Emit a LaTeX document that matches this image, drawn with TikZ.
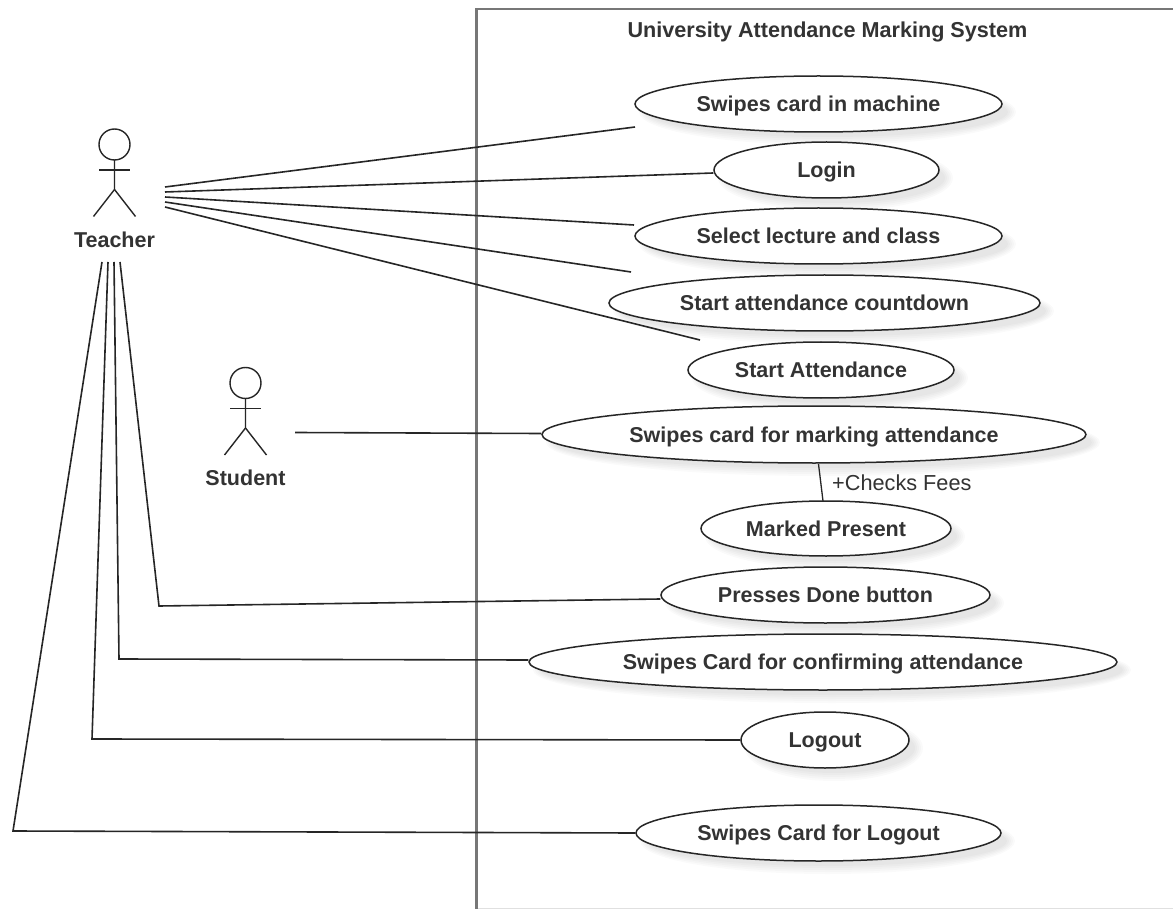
\documentclass[tikz,border=0pt]{standalone}
\usepackage{fontspec}
\setmainfont{Liberation Sans}
\usetikzlibrary{shapes.geometric}
\definecolor{ink}{HTML}{333333}
\definecolor{wire}{HTML}{262626}
\definecolor{framegrey}{HTML}{777777}
\definecolor{edgegrey}{HTML}{E0E0E0}
\tikzset{
  x=1pt,y=-1pt,
  usecase/.style={ellipse,draw=wire,line width=1.5pt,fill=white,inner sep=0pt,text=ink,text height=17pt,text depth=2pt,font=\fontsize{21.5}{24}\selectfont\bfseries},
  actorname/.style={inner sep=0pt,text=ink,text height=17pt,text depth=2pt,font=\fontsize{21.5}{24}\selectfont\bfseries},
  actorline/.style={draw=wire,line width=1.4pt},
  link/.style={draw=wire,line width=1.6pt},
  frameline/.style={draw=framegrey,line width=2.6pt},
  plain/.style={inner sep=0pt,text=ink},
}
% name, cx, cy, rx, ry, text
\newcommand{\ucase}[6]{%
  \foreach \g in {0,2,4,6,8}{%
    \fill[black,opacity=0.02] (#2+9,#3+8) ellipse [x radius=#4+5-\g, y radius=#5+5-\g];}%
  \node[usecase,minimum width=2*#4 pt,minimum height=2*#5 pt] (#1) at (#2,#3) {#6};}
% name, cx, cy(head)
\newcommand{\stick}[3]{%
  \coordinate (#1head) at (#2,#3);
  \draw[actorline] (#1head) circle [radius=15.5];
  \draw[actorline] (#2,#3+15.5) -- (#2,#3+45) -- (#2-21,#3+72);
  \draw[actorline] (#2,#3+45) -- (#2+21,#3+72);
  \draw[actorline] (#2-15.5,#3+25.5) -- (#2+15.5,#3+25.5);}
\begin{document}
\begin{tikzpicture}
\useasboundingbox (0,0) rectangle (1173,909);
\fill[white] (0,0) rectangle (1173,909);
% frame
\coordinate (frameA) at (1173,9);
\coordinate (frameB) at (476.5,9);
\coordinate (frameC) at (476.5,909);
\coordinate (frameD) at (1173,908.5);
\coordinate (frameE) at (476.5,908.5);
\draw[edgegrey,line width=1pt] (frameE) -- (frameD);
\draw[frameline] (frameA) -- (frameB) -- (frameC);
\node[plain,text height=17pt,text depth=2pt,font=\fontsize{21.6}{24}\selectfont\bfseries] (title) at (827.5,30) {University Attendance Marking System};
% use cases
\ucase{machine}{818.5}{104}{183.5}{28}{Swipes card in machine}
\ucase{login}{826.5}{170}{112.5}{28}{Login}
\ucase{select}{818.5}{236}{183.5}{28}{Select lecture and class}
\ucase{countdown}{824.5}{303}{215.5}{28}{Start attendance countdown}
\ucase{start}{821}{370}{133}{28}{Start Attendance}
\ucase{marking}{814}{434.5}{272}{28.5}{Swipes card for marking attendance}
\ucase{present}{826}{528.5}{125}{27.5}{Marked Present}
\ucase{done}{825.5}{595}{164.5}{28}{Presses Done button}
\ucase{confirm}{823}{662}{294}{28}{Swipes Card for confirming attendance}
\ucase{logout}{825}{740}{84}{28}{Logout}
\ucase{swipeout}{818.5}{833}{182.5}{28}{Swipes Card for Logout}
% actors
\stick{teacher}{114.5}{144.5}
\node[actorname] (teachername) at (114.5,240) {Teacher};
\stick{student}{245.5}{383}
\node[actorname] (studentname) at (245.5,478) {Student};
% connector ends
\coordinate (t1) at (165,187);
\coordinate (t2) at (165,192);
\coordinate (t3) at (165,197);
\coordinate (t4) at (165,202);
\coordinate (t5) at (165,207);
\coordinate (e1) at (635,127);
\coordinate (e3) at (634,225);
\coordinate (e4) at (631,272);
\coordinate (e5) at (700,340);
\coordinate (b1) at (120,262);
\coordinate (b2) at (114,262);
\coordinate (b3) at (108,262);
\coordinate (b4) at (102,262);
\coordinate (k1) at (159,606);
\coordinate (k2) at (119,659);
\coordinate (k3) at (92,739);
\coordinate (k4) at (13,831);
\coordinate (s1) at (295,432.5);
\draw[link] (t1) -- (e1);
\draw[link] (t2) -- ([yshift=-3pt]login.west);
\draw[link] (t3) -- (e3);
\draw[link] (t4) -- (e4);
\draw[link] (t5) -- (e5);
\draw[link] (s1) -- ([yshift=1pt]marking.west);
\draw[link] (b1) -- (k1) -- ([yshift=-4pt]done.west);
\draw[link] (b2) -- (k2) -- ([yshift=2pt]confirm.west);
\draw[link] (b3) -- (k3) -- (logout.west);
\draw[link] (b4) -- (k4) -- (swipeout.west);
\coordinate (r1) at (818.5,464);
\coordinate (r2) at (823,501);
\draw[link,line width=1.3pt] (r1) -- (r2);
\node[plain,anchor=west,text height=17pt,text depth=2pt,font=\fontsize{21.7}{24}\selectfont] (fees) at (832,483) {+Checks Fees};
\end{tikzpicture}
\end{document}
